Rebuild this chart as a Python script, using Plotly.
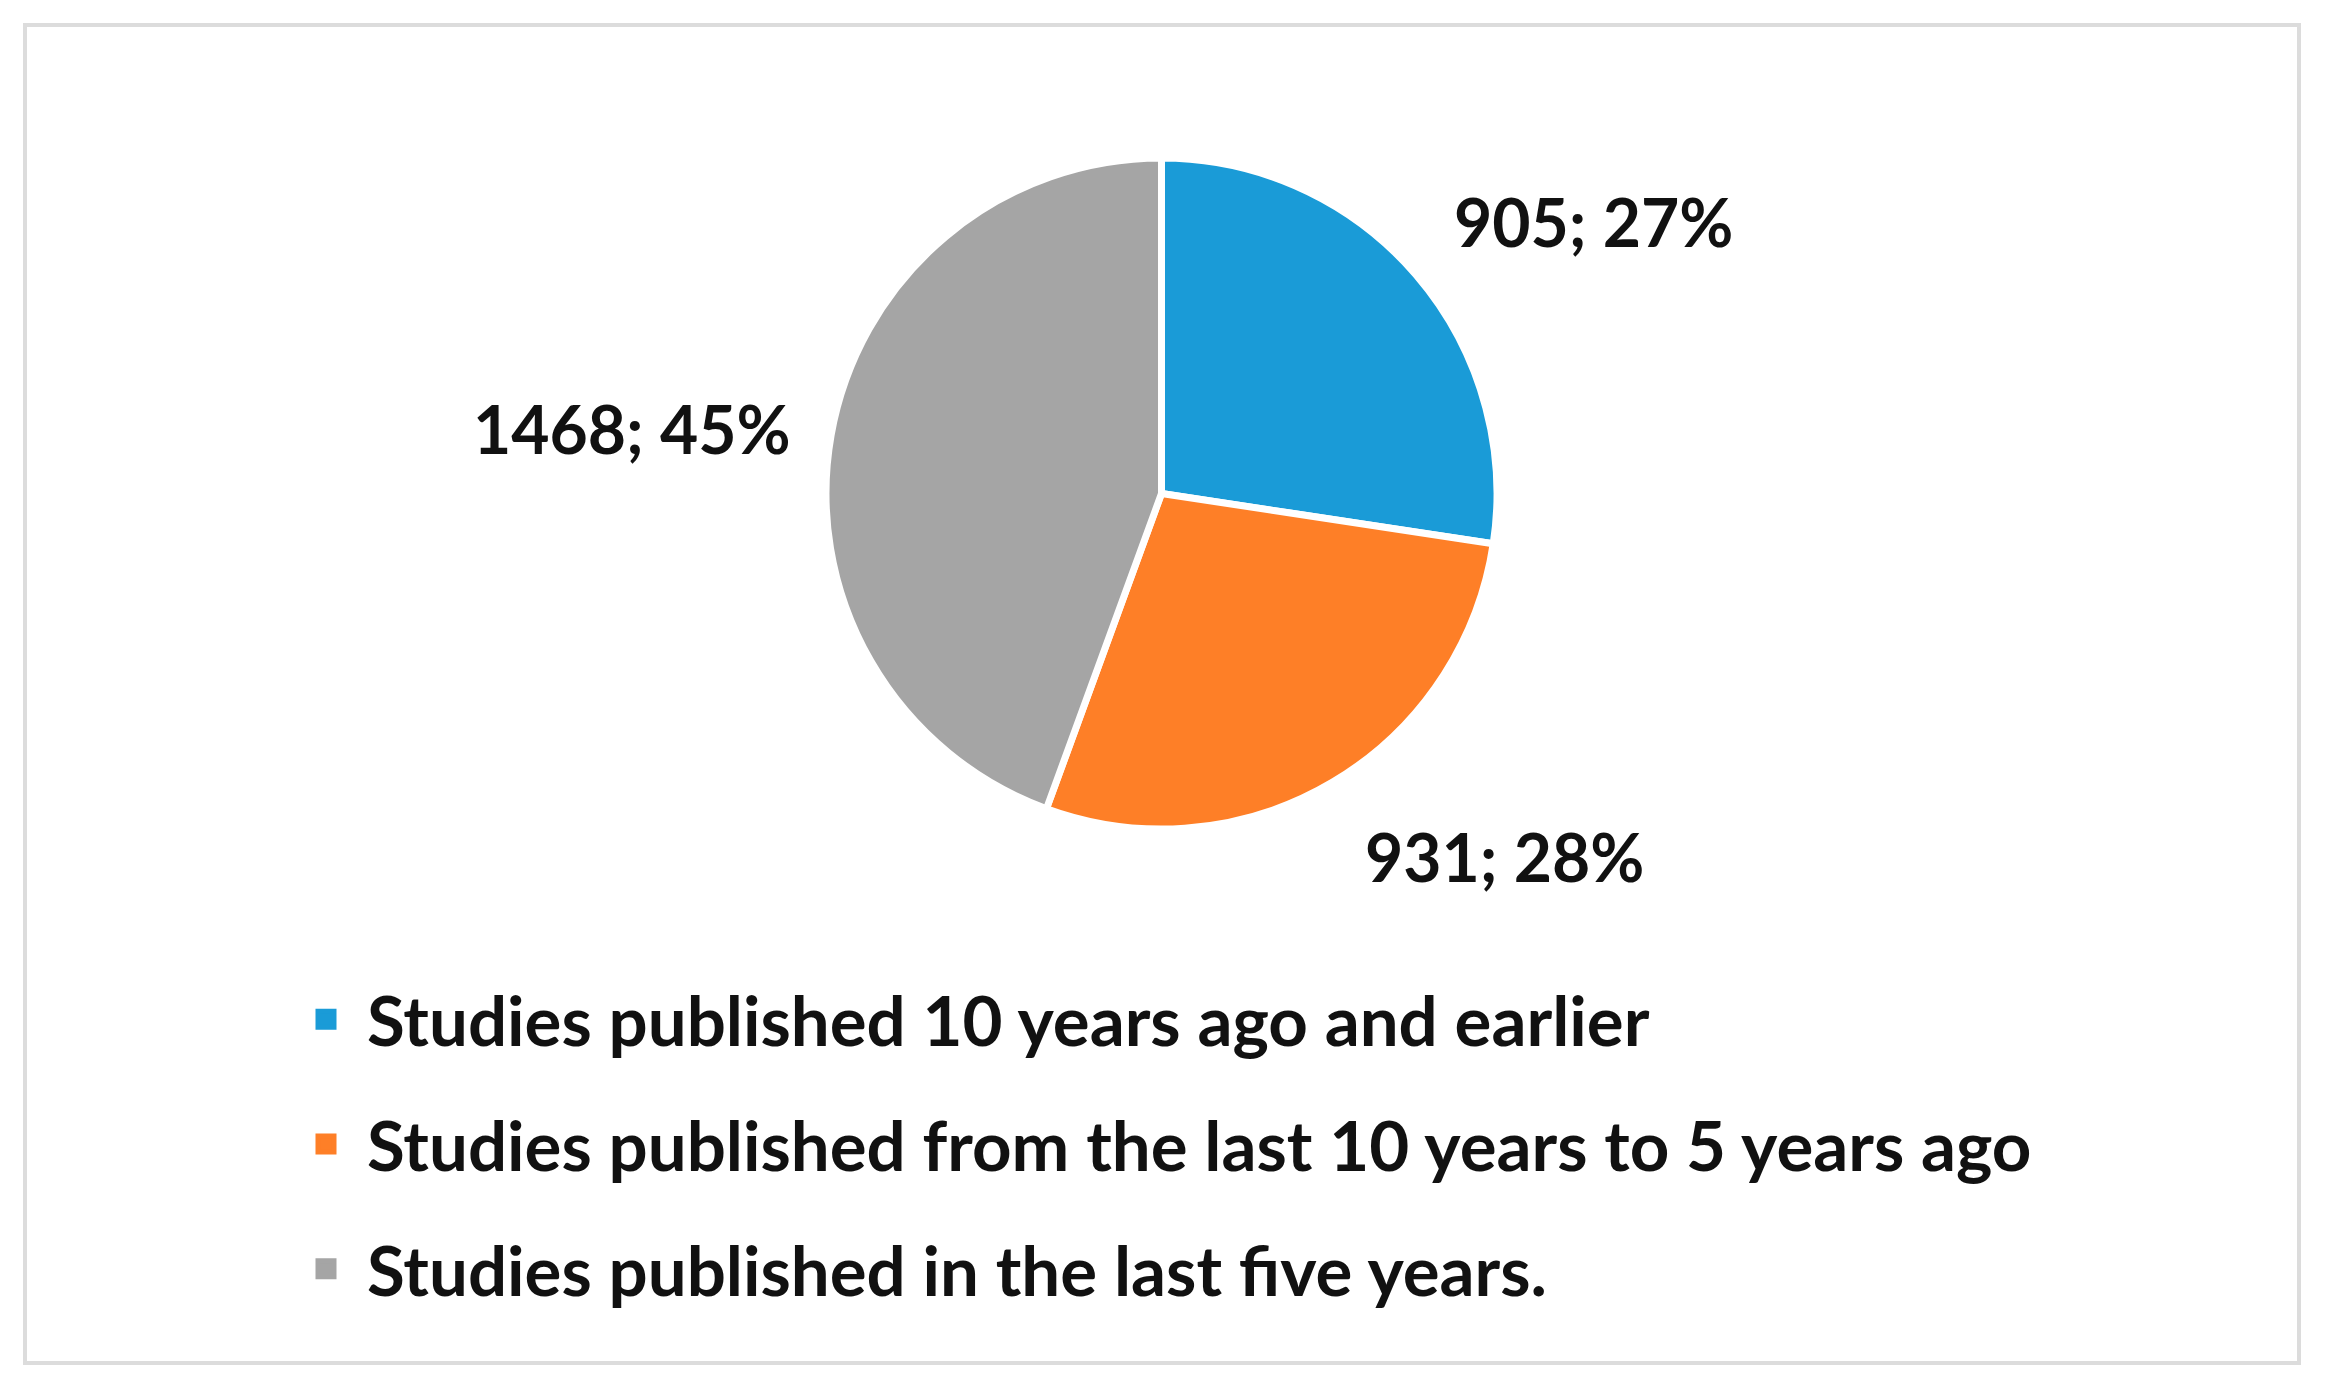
import plotly.graph_objects as go

# data
categories = [
    'Studies published 10 years ago and earlier',
    'Studies published from the last 10 years to 5 years ago',
    'Studies published in the last five years.',
]
counts = [905, 931, 1468]
pct_labels = ['27%', '28%', '45%']
colors = ['#1a9bd7', '#fe7f27', '#a5a5a5']

W, H = 2327, 1390
OFF = 8  # the page body adds an 8px margin
FONT = 'Lato, Noto Sans, sans-serif'

def px(x):
    return (x - OFF) / W

def py(y):
    return 1 - (y - OFF) / H

fig = go.Figure()

fig.add_trace(go.Pie(
    labels=categories,
    values=counts,
    sort=False,
    direction='clockwise',
    rotation=0,
    marker=dict(colors=colors, line=dict(color='white', width=7)),
    textinfo='none',
    hoverinfo='label+value+percent',
    showlegend=False,
    domain=dict(x=[px(826), px(1497)], y=[py(829), py(158)]),
))

# legend entries, one group each so the row spacing can be set
for i, (cat, col) in enumerate(zip(categories, colors)):
    fig.add_trace(go.Scatter(
        x=[None], y=[None], mode='markers', name=cat,
        marker=dict(symbol='square', size=16, color=col,
                    line=dict(color=col, width=5)),
        legendgroup=str(i), showlegend=True,
    ))

# data labels
label_pos = [(1593, 221), (1505, 856), (632, 428)]
for (x, y), c, p in zip(label_pos, counts, pct_labels):
    fig.add_annotation(
        x=px(x), y=py(y), xref='paper', yref='paper',
        text=f'<b>{c}; {p}</b>', showarrow=False,
        font=dict(family=FONT, size=66, color='#111111'),
        xanchor='center', yanchor='middle',
    )

# outer frame
fig.add_shape(type='rect', xref='paper', yref='paper',
              x0=px(25), x1=px(2299), y0=py(1363), y1=py(25),
              line=dict(color='#dcdcdc', width=4))

fig.update_layout(
    width=W, height=H,
    margin=dict(l=0, r=0, t=0, b=0),
    paper_bgcolor='white', plot_bgcolor='white',
    xaxis=dict(visible=False), yaxis=dict(visible=False),
    legend=dict(
        x=px(285), y=py(968), xanchor='left', yanchor='top',
        font=dict(family=FONT, size=69, color='#111111', weight='bold'),
        tracegroupgap=32, itemwidth=72,
        bgcolor='rgba(0,0,0,0)',
    ),
)

fig.write_html('out.html')
